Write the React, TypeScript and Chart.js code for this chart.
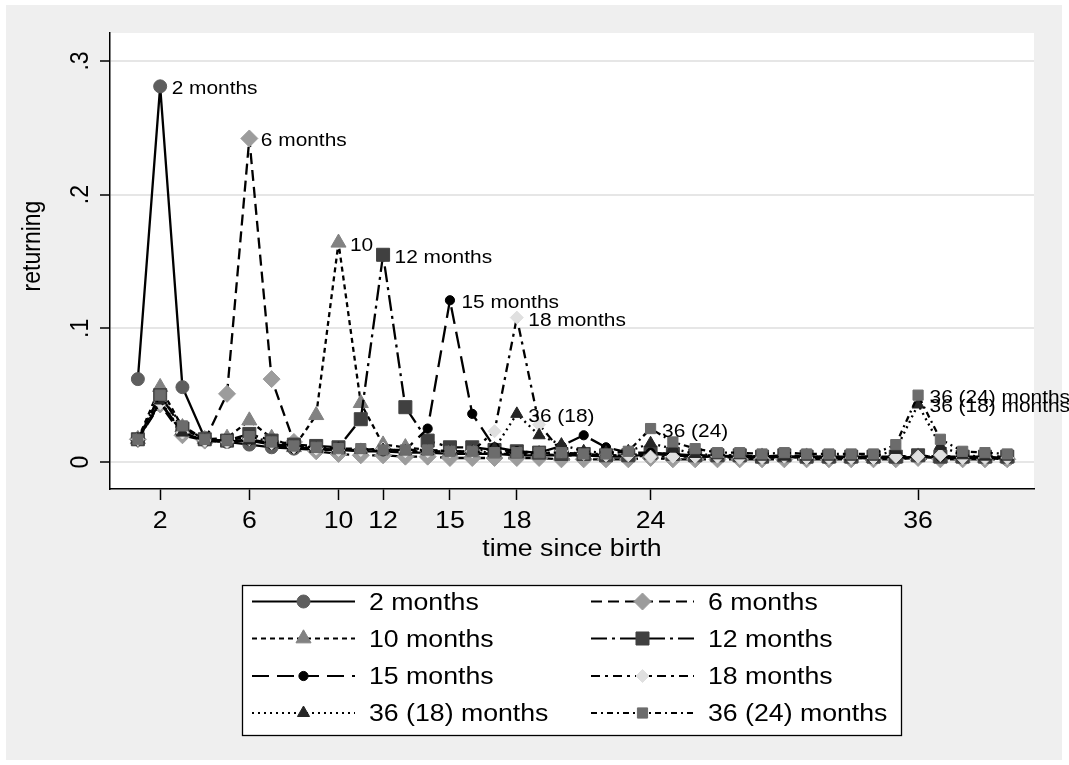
import React, { useEffect, useRef } from "react";
import { Chart, registerables } from "chart.js";

Chart.register(...registerables);

// ---------- data ----------
const months = [1, 2, 3, 4, 5, 6, 7, 8, 9, 10, 11, 12, 13, 14, 15, 16, 17, 18, 19, 20, 21, 22, 23, 24, 25, 26, 27, 28, 29, 30, 31, 32, 33, 34, 35, 36, 37, 38, 39, 40];

const seriesNames = ["2 months", "6 months", "10 months", "12 months", "15 months", "18 months", "36 (18) months", "36 (24) months"];

const ret2 = [0.062, 0.281, 0.056, 0.018, 0.015, 0.013, 0.011, 0.010, 0.009, 0.009, 0.008, 0.008, 0.007, 0.007, 0.006, 0.006, 0.006, 0.005, 0.005, 0.005, 0.005, 0.004, 0.004, 0.006, 0.005, 0.004, 0.004, 0.004, 0.003, 0.004, 0.003, 0.003, 0.003, 0.003, 0.003, 0.004, 0.003, 0.003, 0.003, 0.002];
const ret6 = [0.017, 0.043, 0.020, 0.016, 0.051, 0.242, 0.062, 0.015, 0.008, 0.006, 0.005, 0.005, 0.004, 0.004, 0.003, 0.003, 0.003, 0.003, 0.003, 0.002, 0.002, 0.002, 0.002, 0.003, 0.002, 0.002, 0.002, 0.002, 0.002, 0.002, 0.002, 0.002, 0.002, 0.002, 0.002, 0.003, 0.002, 0.002, 0.002, 0.002];
const ret10 = [0.017, 0.056, 0.026, 0.017, 0.018, 0.031, 0.018, 0.011, 0.035, 0.164, 0.044, 0.013, 0.011, 0.009, 0.008, 0.007, 0.006, 0.006, 0.006, 0.005, 0.005, 0.005, 0.005, 0.007, 0.005, 0.004, 0.004, 0.004, 0.004, 0.004, 0.004, 0.003, 0.003, 0.003, 0.003, 0.004, 0.003, 0.003, 0.003, 0.003];
const ret12 = [0.017, 0.050, 0.025, 0.017, 0.016, 0.021, 0.016, 0.013, 0.012, 0.011, 0.032, 0.155, 0.041, 0.016, 0.011, 0.011, 0.009, 0.008, 0.007, 0.006, 0.006, 0.005, 0.005, 0.007, 0.006, 0.005, 0.005, 0.005, 0.004, 0.005, 0.004, 0.004, 0.004, 0.004, 0.004, 0.005, 0.004, 0.004, 0.004, 0.004];
const ret15 = [0.017, 0.045, 0.022, 0.016, 0.015, 0.016, 0.013, 0.010, 0.010, 0.009, 0.009, 0.008, 0.009, 0.025, 0.121, 0.036, 0.011, 0.008, 0.007, 0.012, 0.020, 0.011, 0.007, 0.007, 0.006, 0.005, 0.005, 0.004, 0.004, 0.004, 0.004, 0.004, 0.004, 0.004, 0.004, 0.004, 0.004, 0.003, 0.004, 0.003];
const ret18 = [0.017, 0.044, 0.022, 0.016, 0.015, 0.017, 0.014, 0.011, 0.010, 0.009, 0.009, 0.010, 0.008, 0.008, 0.008, 0.008, 0.023, 0.108, 0.028, 0.008, 0.006, 0.005, 0.005, 0.004, 0.004, 0.004, 0.004, 0.003, 0.003, 0.004, 0.003, 0.003, 0.003, 0.003, 0.004, 0.004, 0.005, 0.003, 0.003, 0.003];
const ret36of18 = [0.017, 0.046, 0.022, 0.016, 0.015, 0.016, 0.014, 0.011, 0.010, 0.010, 0.009, 0.009, 0.008, 0.008, 0.008, 0.008, 0.010, 0.036, 0.020, 0.013, 0.008, 0.007, 0.008, 0.014, 0.010, 0.006, 0.005, 0.005, 0.004, 0.004, 0.004, 0.004, 0.004, 0.004, 0.009, 0.043, 0.012, 0.005, 0.004, 0.004];
const ret36of24 = [0.017, 0.050, 0.027, 0.017, 0.016, 0.019, 0.015, 0.012, 0.011, 0.010, 0.010, 0.009, 0.009, 0.009, 0.008, 0.008, 0.007, 0.007, 0.007, 0.007, 0.006, 0.006, 0.008, 0.025, 0.015, 0.010, 0.007, 0.007, 0.006, 0.007, 0.006, 0.006, 0.006, 0.006, 0.013, 0.050, 0.017, 0.008, 0.007, 0.006];

const seriesValues = [ret2, ret6, ret10, ret12, ret15, ret18, ret36of18, ret36of24];

const xTickValues = [2, 6, 10, 12, 15, 18, 24, 36];
const yTickValues = [0, 0.1, 0.2, 0.3];
const yTickLabels = ["0", ".1", ".2", ".3"];
const xTitle = "time since birth";
const yTitle = "returning";

// marker labels: series index, month, text
const labelSeries = [0, 1, 2, 3, 4, 5, 6, 7, 7, 6];
const labelMonths = [2, 6, 10, 12, 15, 18, 18, 24, 36, 36];
const labelTexts = ["2 months", "6 months", "10", "12 months", "15 months", "18 months", "36 (18)", "36 (24)", "36 (24) months", "36 (18) months"];

// ---------- styles ----------
const styles = [
  { shape: "circle", r: 6.5, fill: "#5e5e5e", dash: [] as number[] },
  { shape: "rectRot", r: 8.5, fill: "#9c9c9c", dash: [11, 6] },
  { shape: "triangle", r: 8.7, fill: "#828282", dash: [5, 4] },
  { shape: "rect", r: 9.2, fill: "#404040", dash: [16, 5, 3, 5] },
  { shape: "circle", r: 4.6, fill: "#000000", dash: [17, 8] },
  { shape: "rectRot", r: 6.5, fill: "#e0e0e0", dash: [9, 5, 3, 5] },
  { shape: "triangle", r: 7.0, fill: "#262626", dash: [2, 4] },
  { shape: "rect", r: 7.2, fill: "#6c6c6c", dash: [6, 4, 2, 4] },
];

const SX = 1.16;
const FONT = '"Liberation Sans", Arial, Helvetica, sans-serif';

function drawText(ctx: CanvasRenderingContext2D, s: string, x: number, y: number, size: number, align: CanvasTextAlign, rot = 0) {
  ctx.save();
  ctx.translate(x, y);
  ctx.scale(SX, 1);
  if (rot) ctx.rotate(rot);
  ctx.font = `${size}px ${FONT}`;
  ctx.textAlign = align;
  ctx.textBaseline = "alphabetic";
  ctx.fillStyle = "#000";
  ctx.fillText(s, 0, 0.36 * size);
  ctx.restore();
}

function drawMarker(ctx: CanvasRenderingContext2D, shape: string, r: number, x: number, y: number, color: string) {
  ctx.save();
  ctx.setLineDash([]);
  ctx.fillStyle = color;
  ctx.strokeStyle = color;
  ctx.lineWidth = 1;
  ctx.beginPath();
  if (shape === "circle") {
    ctx.arc(x, y, r, 0, Math.PI * 2);
  } else if (shape === "rectRot") {
    ctx.moveTo(x - r, y);
    ctx.lineTo(x, y - r);
    ctx.lineTo(x + r, y);
    ctx.lineTo(x, y + r);
  } else if (shape === "rect") {
    const h = r * Math.SQRT1_2;
    ctx.rect(x - h, y - h, 2 * h, 2 * h);
  } else if (shape === "triangle") {
    ctx.moveTo(x, y - r);
    ctx.lineTo(x + r * 0.866, y + r * 0.5);
    ctx.lineTo(x - r * 0.866, y + r * 0.5);
  }
  ctx.closePath();
  ctx.fill();
  ctx.stroke();
  ctx.restore();
}

const bgPlugin = {
  id: "stataBg",
  beforeDraw(chart: any) {
    const { ctx, chartArea, width, height } = chart;
    ctx.save();
    ctx.fillStyle = "#ffffff";
    ctx.fillRect(0, 0, width, height);
    ctx.fillStyle = "#efefef";
    ctx.fillRect(6, 5, 1056, 755);
    ctx.fillStyle = "#ffffff";
    ctx.fillRect(chartArea.left, chartArea.top, chartArea.right - chartArea.left, chartArea.bottom - chartArea.top);
    ctx.restore();
  },
};

const textPlugin = {
  id: "stataText",
  afterDatasetsDraw(chart: any) {
    const ctx = chart.ctx as CanvasRenderingContext2D;
    for (let k = 0; k < labelTexts.length; k++) {
      const meta = chart.getDatasetMeta(labelSeries[k]);
      const idx = months.indexOf(labelMonths[k]);
      const pt = meta.data[idx];
      if (!pt) continue;
      drawText(ctx, labelTexts[k], pt.x + 11.5, pt.y + 1.5, 18, "left");
    }
  },
  afterDraw(chart: any) {
    const ctx = chart.ctx as CanvasRenderingContext2D;
    const xs = chart.scales.x;
    const ys = chart.scales.y;
    const area = chart.chartArea;
    xTickValues.forEach((v) => {
      drawText(ctx, String(v), xs.getPixelForValue(v), 520, 23, "center");
    });
    yTickValues.forEach((v, i) => {
      drawText(ctx, yTickLabels[i], 78.5, ys.getPixelForValue(v), 23, "center", -Math.PI / 2);
    });
    drawText(ctx, xTitle, (area.left + area.right) / 2, 548, 23, "center");
    drawText(ctx, yTitle, 30, (area.top + area.bottom) / 2 - 15, 23, "center", -Math.PI / 2);

    // legend
    const bx = 242, by = 585, bw = 660, bh = 151;
    ctx.save();
    ctx.fillStyle = "#ffffff";
    ctx.fillRect(bx, by, bw, bh);
    ctx.strokeStyle = "#000";
    ctx.lineWidth = 1.3;
    ctx.strokeRect(bx + 0.5, by + 0.5, bw - 1, bh - 1);
    ctx.restore();
    const rowY = [601.5, 638.5, 676, 713];
    const colKeyX = [252, 591];
    const keyW = 103;
    const textGap = 14;
    seriesNames.forEach((name, i) => {
      const col = i % 2;
      const row = Math.floor(i / 2);
      const y = rowY[row];
      const x0 = colKeyX[col];
      const st = styles[i];
      ctx.save();
      ctx.strokeStyle = "#000";
      ctx.lineWidth = 2;
      ctx.setLineDash(st.dash);
      ctx.beginPath();
      ctx.moveTo(x0, y);
      ctx.lineTo(x0 + keyW, y);
      ctx.stroke();
      ctx.restore();
      drawMarker(ctx, st.shape, st.r, x0 + keyW / 2, y, st.fill);
      drawText(ctx, name, x0 + keyW + textGap, y, 23, "left");
    });
  },
};

export default function App() {
  const canvasRef = useRef<HTMLCanvasElement | null>(null);

  useEffect(() => {
    const canvas = canvasRef.current;
    if (!canvas) return;
    const datasets = seriesValues.map((vals, i) => ({
      label: seriesNames[i],
      data: months.map((m, j) => ({ x: m, y: vals[j] })),
      borderColor: "#000000",
      borderWidth: 2.3,
      borderDash: styles[i].dash,
      pointStyle: styles[i].shape as any,
      pointRadius: styles[i].r,
      pointBackgroundColor: styles[i].fill,
      pointBorderColor: styles[i].fill,
      pointBorderWidth: 1,
      pointHoverRadius: styles[i].r,
      tension: 0,
      fill: false,
      order: 7 - i,
    }));

    const chart = new Chart(canvas, {
      type: "line",
      data: { datasets },
      options: {
        responsive: false,
        animation: false,
        events: [],
        layout: { padding: { left: 0, top: 33, right: 35, bottom: 0 } },
        plugins: {
          legend: { display: false },
          tooltip: { enabled: false },
          title: { display: false },
        },
        scales: {
          x: {
            type: "linear",
            min: -0.25,
            max: 41.2,
            afterBuildTicks: (s: any) => {
              s.ticks = xTickValues.map((v) => ({ value: v }));
            },
            afterFit: (s: any) => {
              s.height = 276;
            },
            ticks: { display: false },
            grid: {
              drawOnChartArea: false,
              drawTicks: true,
              tickLength: 11,
              tickColor: "#000",
              tickWidth: 1.5,
            },
            border: { display: true, color: "#000", width: 1.5 },
          },
          y: {
            type: "linear",
            min: -0.0202,
            max: 0.3209,
            afterBuildTicks: (s: any) => {
              s.ticks = yTickValues.map((v) => ({ value: v }));
            },
            afterFit: (s: any) => {
              s.width = 110;
            },
            ticks: { display: false },
            grid: {
              color: "#e6e6e6",
              lineWidth: 2,
              drawOnChartArea: true,
              drawTicks: true,
              tickLength: 10,
              tickColor: "#000",
              tickWidth: 1.5,
            },
            border: { display: true, color: "#000", width: 1.5 },
          },
        },
      } as any,
      plugins: [bgPlugin, textPlugin],
    });
    return () => chart.destroy();
  }, []);

  return (
    <div style={{ position: "absolute", left: 0, top: 0, width: 1069, height: 765, background: "#fff" }}>
      <canvas ref={canvasRef} width={1069} height={765} style={{ width: 1069, height: 765, display: "block" }} />
    </div>
  );
}
